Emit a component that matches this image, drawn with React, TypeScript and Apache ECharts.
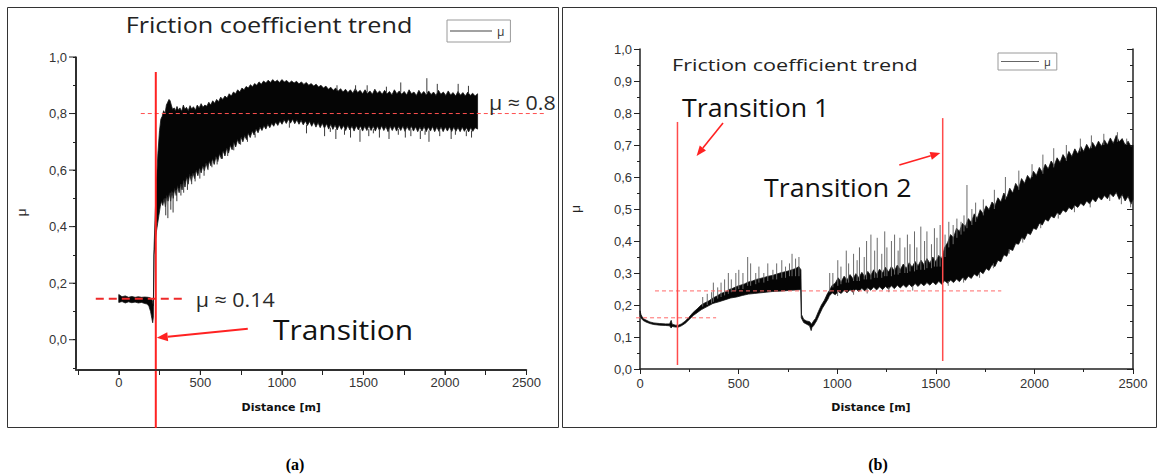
import React, { useEffect, useRef } from 'react';
import * as echarts from 'echarts';

type P = [number, number];
type S = [number, number, number]; // [distance, from μ, to μ]

// ---------- Panel (a): envelope of the friction-coefficient signal [distance m, μ] ----------
const aUpper: P[] = [
  [0, 0.16], [20, 0.152], [40, 0.155], [60, 0.15], [80, 0.153], [100, 0.15], [120, 0.152], [140, 0.15],
  [160, 0.151], [180, 0.15], [195, 0.148], [205, 0.14], [212, 0.12],
  [216, 0.32], [222, 0.42], [230, 0.55], [240, 0.66], [250, 0.74], [258, 0.78], [266, 0.79], [275, 0.81],
  [284, 0.8], [292, 0.83], [300, 0.84], [308, 0.85], [315, 0.845], [322, 0.83], [330, 0.815], [340, 0.82],
  [348, 0.81], [357, 0.825], [366, 0.812], [375, 0.82], [386, 0.808], [396, 0.83], [405, 0.815], [415, 0.822],
  [426, 0.81], [437, 0.828], [447, 0.816], [458, 0.824], [470, 0.812], [481, 0.83], [493, 0.82], [505, 0.835],
  [516, 0.822], [528, 0.83], [540, 0.826], [552, 0.84], [564, 0.83], [576, 0.845], [588, 0.836], [600, 0.85],
  [612, 0.842], [625, 0.858], [638, 0.85], [651, 0.862], [664, 0.855], [677, 0.87], [690, 0.862], [703, 0.876],
  [716, 0.87], [729, 0.884], [742, 0.876], [755, 0.89], [768, 0.884], [781, 0.896], [794, 0.89], [807, 0.902],
  [820, 0.895], [833, 0.906], [846, 0.9], [860, 0.912], [874, 0.904], [888, 0.915], [902, 0.908], [916, 0.918],
  [930, 0.91], [944, 0.92], [958, 0.912], [972, 0.918], [986, 0.91], [1000, 0.92], [1015, 0.912], [1030, 0.917],
  [1045, 0.908], [1060, 0.915], [1075, 0.908], [1090, 0.914], [1105, 0.905], [1120, 0.912], [1135, 0.903],
  [1150, 0.91], [1165, 0.9], [1180, 0.906], [1195, 0.897], [1210, 0.904], [1225, 0.894], [1240, 0.9],
  [1255, 0.89], [1270, 0.897], [1285, 0.886], [1300, 0.893], [1315, 0.882], [1330, 0.89], [1345, 0.879],
  [1360, 0.888], [1375, 0.876], [1390, 0.886], [1405, 0.874], [1420, 0.884], [1435, 0.872], [1450, 0.888],
  [1465, 0.874], [1480, 0.882], [1495, 0.87], [1510, 0.884], [1525, 0.871], [1540, 0.88], [1555, 0.868],
  [1570, 0.886], [1585, 0.872], [1600, 0.88], [1615, 0.868], [1630, 0.882], [1645, 0.87], [1660, 0.878],
  [1675, 0.866], [1690, 0.884], [1705, 0.87], [1720, 0.88], [1735, 0.868], [1750, 0.878], [1765, 0.866],
  [1780, 0.884], [1795, 0.87], [1810, 0.876], [1825, 0.864], [1840, 0.882], [1855, 0.868], [1870, 0.878],
  [1885, 0.866], [1900, 0.88], [1915, 0.867], [1930, 0.876], [1945, 0.864], [1960, 0.882], [1975, 0.868],
  [1990, 0.876], [2005, 0.864], [2020, 0.88], [2035, 0.866], [2050, 0.874], [2065, 0.862], [2080, 0.878],
  [2095, 0.865], [2110, 0.874], [2125, 0.862], [2140, 0.876], [2155, 0.864], [2170, 0.872], [2185, 0.862],
  [2200, 0.87],
];
const aLower: P[] = [
  [0, 0.132], [20, 0.135], [40, 0.13], [60, 0.134], [80, 0.131], [100, 0.133], [120, 0.13], [140, 0.132],
  [160, 0.128], [175, 0.126], [185, 0.118], [195, 0.1], [203, 0.075], [208, 0.06], [212, 0.08],
  [216, 0.3], [222, 0.34], [230, 0.38], [238, 0.41], [246, 0.44], [254, 0.47], [262, 0.49], [270, 0.475],
  [278, 0.5], [286, 0.47], [294, 0.51], [302, 0.49], [310, 0.52], [318, 0.49], [326, 0.525], [334, 0.5],
  [343, 0.535], [352, 0.51], [361, 0.545], [370, 0.52], [379, 0.55], [388, 0.53], [397, 0.565], [406, 0.54],
  [415, 0.575], [425, 0.55], [435, 0.585], [445, 0.56], [455, 0.59], [465, 0.57], [475, 0.6], [485, 0.58],
  [495, 0.608], [505, 0.59], [515, 0.615], [525, 0.598], [535, 0.625], [545, 0.605], [555, 0.632], [565, 0.615],
  [575, 0.64], [585, 0.62], [596, 0.648], [607, 0.63], [618, 0.658], [629, 0.64], [640, 0.668], [651, 0.65],
  [662, 0.678], [673, 0.66], [684, 0.688], [695, 0.672], [706, 0.698], [717, 0.682], [728, 0.708], [739, 0.692],
  [750, 0.716], [761, 0.7], [772, 0.722], [783, 0.708], [794, 0.73], [806, 0.715], [818, 0.738], [830, 0.724],
  [842, 0.745], [854, 0.732], [866, 0.752], [878, 0.74], [890, 0.757], [902, 0.745], [914, 0.762], [926, 0.75],
  [938, 0.766], [950, 0.755], [962, 0.77], [975, 0.758], [988, 0.774], [1001, 0.762], [1014, 0.778],
  [1027, 0.765], [1040, 0.78], [1053, 0.766], [1066, 0.78], [1079, 0.764], [1092, 0.778], [1105, 0.762],
  [1118, 0.776], [1131, 0.76], [1144, 0.774], [1157, 0.758], [1170, 0.772], [1183, 0.755], [1196, 0.77],
  [1209, 0.752], [1222, 0.768], [1235, 0.75], [1248, 0.766], [1261, 0.748], [1274, 0.764], [1287, 0.745],
  [1300, 0.762], [1313, 0.744], [1326, 0.76], [1339, 0.742], [1352, 0.76], [1365, 0.744], [1378, 0.758],
  [1391, 0.74], [1404, 0.758], [1417, 0.742], [1430, 0.756], [1443, 0.738], [1456, 0.757], [1469, 0.742],
  [1482, 0.756], [1495, 0.738], [1508, 0.755], [1521, 0.74], [1534, 0.757], [1547, 0.74], [1560, 0.756],
  [1573, 0.738], [1586, 0.755], [1599, 0.74], [1612, 0.757], [1625, 0.74], [1638, 0.754], [1651, 0.736],
  [1664, 0.755], [1677, 0.74], [1690, 0.756], [1703, 0.738], [1716, 0.754], [1729, 0.74], [1742, 0.756],
  [1755, 0.737], [1768, 0.754], [1781, 0.74], [1794, 0.755], [1807, 0.738], [1820, 0.753], [1833, 0.736],
  [1846, 0.752], [1859, 0.738], [1872, 0.754], [1885, 0.736], [1898, 0.752], [1911, 0.738], [1924, 0.754],
  [1937, 0.736], [1950, 0.752], [1963, 0.737], [1976, 0.753], [1989, 0.736], [2002, 0.752], [2015, 0.738],
  [2028, 0.753], [2041, 0.736], [2054, 0.752], [2067, 0.737], [2080, 0.751], [2093, 0.736], [2106, 0.752],
  [2119, 0.737], [2132, 0.75], [2145, 0.735], [2158, 0.75], [2171, 0.737], [2184, 0.75], [2200, 0.745],
];
const aSpikes: S[] = [
  [288, 0.5, 0.44], [301, 0.5, 0.43], [319, 0.52, 0.46], [333, 0.52, 0.45], [356, 0.53, 0.49], [381, 0.55, 0.51],
  [398, 0.56, 0.52], [421, 0.57, 0.53], [447, 0.58, 0.55], [468, 0.59, 0.56], [497, 0.6, 0.57], [523, 0.61, 0.58],
  [547, 0.62, 0.6], [571, 0.63, 0.61], [603, 0.64, 0.62], [636, 0.66, 0.64], [668, 0.67, 0.65], [705, 0.69, 0.67],
  [747, 0.71, 0.69], [789, 0.72, 0.7], [836, 0.73, 0.715], [1046, 0.77, 0.75], [1151, 0.76, 0.73],
  [1262, 0.75, 0.72], [1297, 0.75, 0.735], [1331, 0.745, 0.71], [1384, 0.745, 0.725], [1421, 0.745, 0.715],
  [1479, 0.745, 0.7], [1533, 0.745, 0.72], [1561, 0.745, 0.73], [1598, 0.745, 0.715], [1657, 0.745, 0.71],
  [1714, 0.745, 0.725], [1757, 0.74, 0.715], [1791, 0.745, 0.72], [1849, 0.74, 0.71], [1878, 0.74, 0.725],
  [1902, 0.74, 0.7], [1968, 0.74, 0.72], [2038, 0.74, 0.71], [2064, 0.74, 0.725], [2131, 0.74, 0.72],
  [2163, 0.74, 0.715],
  [1338, 0.88, 0.9], [1452, 0.88, 0.9], [1523, 0.875, 0.9], [1641, 0.875, 0.895], [1729, 0.875, 0.91],
  [1889, 0.872, 0.925], [1953, 0.872, 0.905], [2081, 0.87, 0.905], [2144, 0.87, 0.898],
];

// ---------- Panel (b) ----------
const bUpper: P[] = [
  [0, 0.182], [5, 0.17], [15, 0.158], [30, 0.153], [50, 0.147], [70, 0.144], [100, 0.142], [130, 0.141],
  [150, 0.141], [158, 0.152], [163, 0.14], [180, 0.137], [195, 0.137], [210, 0.141], [230, 0.15], [250, 0.163],
  [270, 0.177], [290, 0.188], [310, 0.2], [330, 0.207], [350, 0.213], [370, 0.222], [390, 0.228], [410, 0.236],
  [430, 0.24], [450, 0.248], [470, 0.252], [490, 0.258], [510, 0.262], [530, 0.266], [550, 0.272], [570, 0.275],
  [590, 0.28], [610, 0.283], [630, 0.286], [650, 0.29], [670, 0.292], [690, 0.296], [710, 0.3], [730, 0.303],
  [750, 0.306], [770, 0.31], [790, 0.314], [805, 0.32], [816, 0.31],
  [819, 0.17], [830, 0.155], [845, 0.15], [860, 0.148], [870, 0.14], [880, 0.15], [890, 0.158], [905, 0.18],
  [920, 0.2], [935, 0.215], [950, 0.235],
  [960, 0.245], [975, 0.262], [990, 0.268], [1005, 0.285], [1020, 0.272], [1035, 0.29], [1050, 0.278],
  [1065, 0.295], [1080, 0.282], [1095, 0.298], [1110, 0.285], [1125, 0.302], [1140, 0.288], [1155, 0.305],
  [1170, 0.292], [1185, 0.31], [1200, 0.296], [1215, 0.312], [1230, 0.3], [1245, 0.318], [1260, 0.303],
  [1275, 0.32], [1290, 0.306], [1305, 0.325], [1320, 0.31], [1335, 0.328], [1350, 0.314], [1365, 0.332],
  [1380, 0.318], [1395, 0.336], [1410, 0.322], [1425, 0.34], [1440, 0.326], [1455, 0.345], [1470, 0.33],
  [1485, 0.35], [1500, 0.335], [1515, 0.355], [1530, 0.345], [1545, 0.38], [1560, 0.395], [1575, 0.42],
  [1590, 0.41], [1605, 0.44], [1620, 0.43], [1635, 0.455], [1650, 0.445], [1665, 0.47], [1680, 0.458],
  [1695, 0.485], [1710, 0.47], [1725, 0.498], [1740, 0.485], [1755, 0.51], [1770, 0.498], [1785, 0.522],
  [1800, 0.51], [1815, 0.535], [1830, 0.522], [1845, 0.55], [1860, 0.535], [1875, 0.565], [1890, 0.55],
  [1905, 0.58], [1920, 0.565], [1935, 0.595], [1950, 0.58], [1965, 0.605], [1980, 0.592], [1995, 0.618],
  [2010, 0.605], [2025, 0.63], [2040, 0.615], [2055, 0.64], [2070, 0.625], [2085, 0.65], [2100, 0.635],
  [2115, 0.66], [2130, 0.645], [2145, 0.67], [2160, 0.655], [2175, 0.68], [2190, 0.664], [2205, 0.688],
  [2220, 0.672], [2235, 0.696], [2250, 0.68], [2265, 0.702], [2280, 0.686], [2295, 0.708], [2310, 0.692],
  [2325, 0.712], [2340, 0.696], [2355, 0.716], [2370, 0.7], [2385, 0.722], [2400, 0.705], [2415, 0.73],
  [2430, 0.71], [2445, 0.72], [2460, 0.7], [2475, 0.712], [2490, 0.695], [2500, 0.7],
];
const bLower: P[] = [
  [0, 0.172], [5, 0.16], [15, 0.152], [30, 0.147], [50, 0.142], [70, 0.139], [100, 0.137], [130, 0.136],
  [150, 0.135], [158, 0.128], [163, 0.133], [180, 0.131], [195, 0.131], [210, 0.135], [230, 0.143],
  [250, 0.155], [270, 0.167], [290, 0.176], [310, 0.185], [340, 0.195], [370, 0.205], [400, 0.21],
  [430, 0.216], [460, 0.222], [490, 0.225], [520, 0.23], [550, 0.234], [580, 0.236], [610, 0.238],
  [640, 0.24], [670, 0.242], [700, 0.243], [730, 0.244], [760, 0.246], [790, 0.247], [815, 0.248],
  [818, 0.16], [830, 0.145], [845, 0.14], [860, 0.135], [868, 0.12], [872, 0.13], [880, 0.135], [895, 0.15],
  [910, 0.17], [925, 0.19], [940, 0.205], [955, 0.22],
  [960, 0.228], [975, 0.238], [990, 0.232], [1005, 0.242], [1020, 0.236], [1035, 0.246], [1050, 0.238],
  [1065, 0.248], [1080, 0.24], [1095, 0.25], [1110, 0.242], [1125, 0.252], [1140, 0.244], [1155, 0.254],
  [1170, 0.246], [1185, 0.256], [1200, 0.247], [1215, 0.257], [1230, 0.248], [1245, 0.258], [1260, 0.25],
  [1275, 0.26], [1290, 0.251], [1305, 0.262], [1320, 0.253], [1335, 0.263], [1350, 0.255], [1365, 0.265],
  [1380, 0.256], [1395, 0.267], [1410, 0.258], [1425, 0.268], [1440, 0.26], [1455, 0.27], [1470, 0.262],
  [1485, 0.272], [1500, 0.263], [1515, 0.274], [1530, 0.265], [1545, 0.276], [1560, 0.268], [1575, 0.278],
  [1590, 0.27], [1605, 0.281], [1620, 0.273], [1635, 0.285], [1650, 0.277], [1665, 0.29], [1680, 0.283],
  [1695, 0.297], [1710, 0.29], [1725, 0.305], [1740, 0.298], [1755, 0.314], [1770, 0.308], [1785, 0.326],
  [1800, 0.32], [1815, 0.34], [1830, 0.335], [1845, 0.357], [1860, 0.352], [1875, 0.375], [1890, 0.37],
  [1905, 0.392], [1920, 0.39], [1935, 0.41], [1950, 0.405], [1965, 0.425], [1980, 0.42], [1995, 0.44],
  [2010, 0.436], [2025, 0.455], [2040, 0.45], [2055, 0.468], [2070, 0.462], [2085, 0.478], [2100, 0.472],
  [2115, 0.488], [2130, 0.482], [2145, 0.497], [2160, 0.49], [2175, 0.505], [2190, 0.498], [2205, 0.512],
  [2220, 0.505], [2235, 0.518], [2250, 0.51], [2265, 0.525], [2280, 0.516], [2295, 0.532], [2310, 0.522],
  [2325, 0.538], [2340, 0.528], [2355, 0.542], [2370, 0.532], [2385, 0.548], [2400, 0.538], [2415, 0.552],
  [2430, 0.53], [2445, 0.545], [2460, 0.525], [2475, 0.54], [2490, 0.515], [2500, 0.53],
];
const bSpikes: S[] = [
  [318, 0.195, 0.225], [341, 0.2, 0.235], [363, 0.205, 0.24], [372, 0.21, 0.27], [394, 0.22, 0.255],
  [411, 0.225, 0.27], [429, 0.23, 0.28], [448, 0.235, 0.3], [463, 0.24, 0.28], [486, 0.245, 0.3],
  [501, 0.25, 0.31], [522, 0.25, 0.3], [546, 0.26, 0.35], [561, 0.26, 0.33], [587, 0.265, 0.3],
  [603, 0.27, 0.32], [628, 0.27, 0.3], [648, 0.275, 0.33], [674, 0.28, 0.31], [693, 0.28, 0.33],
  [719, 0.285, 0.34], [738, 0.285, 0.32], [758, 0.29, 0.33], [771, 0.29, 0.36], [789, 0.29, 0.345],
  [806, 0.29, 0.35],
  [962, 0.24, 0.3], [978, 0.255, 0.3], [1003, 0.26, 0.34], [1019, 0.265, 0.32], [1046, 0.27, 0.37],
  [1058, 0.27, 0.33], [1083, 0.275, 0.36], [1101, 0.275, 0.34], [1113, 0.275, 0.38], [1137, 0.28, 0.35],
  [1149, 0.28, 0.4], [1171, 0.28, 0.42], [1190, 0.285, 0.37], [1203, 0.285, 0.41], [1226, 0.285, 0.36],
  [1241, 0.29, 0.43], [1252, 0.29, 0.38], [1275, 0.29, 0.4], [1291, 0.295, 0.42], [1309, 0.295, 0.37],
  [1318, 0.3, 0.41], [1343, 0.3, 0.38], [1356, 0.3, 0.42], [1369, 0.305, 0.39], [1392, 0.305, 0.43],
  [1404, 0.31, 0.38], [1424, 0.31, 0.445], [1443, 0.31, 0.4], [1455, 0.315, 0.43], [1478, 0.315, 0.39],
  [1493, 0.32, 0.44], [1506, 0.32, 0.41], [1522, 0.32, 0.45], [1547, 0.35, 0.42], [1566, 0.38, 0.46],
  [1588, 0.39, 0.45], [1607, 0.41, 0.47], [1628, 0.42, 0.46], [1643, 0.43, 0.48], [1658, 0.44, 0.575],
  [1683, 0.45, 0.5], [1702, 0.46, 0.52], [1741, 0.48, 0.53], [1797, 0.5, 0.56], [1853, 0.53, 0.6],
  [1921, 0.56, 0.62], [1988, 0.6, 0.64], [2043, 0.61, 0.67], [2098, 0.63, 0.69], [2162, 0.65, 0.7],
  [2233, 0.68, 0.72], [2289, 0.69, 0.73], [2352, 0.7, 0.735], [2421, 0.71, 0.74], [2468, 0.7, 0.72],
  [1002, 0.245, 0.228], [1083, 0.248, 0.232], [1152, 0.252, 0.236], [1262, 0.256, 0.24], [1383, 0.26, 0.245],
  [1563, 0.275, 0.26], [1641, 0.285, 0.27], [1722, 0.3, 0.285], [1792, 0.33, 0.315], [1872, 0.375, 0.36],
  [1941, 0.41, 0.395], [2032, 0.455, 0.44], [2121, 0.485, 0.47], [2203, 0.51, 0.49], [2283, 0.52, 0.505],
  [2382, 0.545, 0.525], [2441, 0.54, 0.515], [2488, 0.52, 0.505],
];

// ---------- annotations (data units) ----------
const aTransition = { d: 227, top: 0.947, bottom: -0.312 };
const aLevels = [
  { mu: 0.8, from: 135, to: 2607, label: 'μ ≈ 0.8', labelD: 2270, labelMu: 0.84 },
  { mu: 0.145, from: -141, to: 411, label: 'μ ≈ 0.14', labelD: 472, labelMu: 0.143 },
];
const aArrow = { text: 'Transition', textD: 945, textMu: 0.037, from: [791, 0.039] as P, to: [233, 0.007] as P };

const bTransitions = [
  { d: 190, top: 0.772, bottom: 0.0125, text: 'Transition 1', textD: 213, textMu: 0.819, from: [421, 0.769] as P, to: [287, 0.666] as P },
  { d: 1535, top: 0.784, bottom: 0.025, text: 'Transition 2', textD: 629, textMu: 0.569, from: [1315, 0.6375] as P, to: [1523, 0.675] as P },
];
const bLevels = [
  { mu: 0.244, from: 76, to: 1832 },
  { mu: 0.16, from: -20, to: 386 },
];

const aXRange: P = [-250, 2500];
const aYRange: P = [-0.1, 1.0];
const aYMajor = [0, 0.2, 0.4, 0.6, 0.8, 1.0];
const aXMajor = [0, 500, 1000, 1500, 2000, 2500];
const xLabelStep = 500;
const seriesName = 'μ';
const titleText = 'Friction coefficient trend';

const GRID_A = { left: 78, top: 57, width: 448.5, height: 311 };
const GRID_B = { left: 640, top: 49, width: 493, height: 320 };
const A_OFF = 2; // panel (a) axes sit 2 px outside the plotting box

const RED = '#ff2222';
const FONT = '"Open Sans", sans-serif';
const STRETCH = 1.07;
const AXIS_COLOR = '#222';

function fmtComma(v: number) {
  return (Math.round(v * 10) / 10).toFixed(1).replace('.', ',');
}

function arrow(p1: number[], p2: number[], color: string, lw: number, hl: number, hw: number) {
  const dx = p2[0] - p1[0], dy = p2[1] - p1[1];
  const L = Math.hypot(dx, dy);
  const ux = dx / L, uy = dy / L;
  const bx = p2[0] - ux * hl, by = p2[1] - uy * hl;
  const nx = -uy, ny = ux;
  return [
    { type: 'line', shape: { x1: p1[0], y1: p1[1], x2: bx, y2: by }, style: { stroke: color, lineWidth: lw } },
    {
      type: 'polygon',
      shape: { points: [[p2[0], p2[1]], [bx + (nx * hw) / 2, by + (ny * hw) / 2], [bx - (nx * hw) / 2, by - (ny * hw) / 2]] },
      style: { fill: color },
    },
  ];
}

function band(xi: number, yi: number, upper: P[], lower: P[], spikes: S[], spikeColor: string) {
  return {
    type: 'custom',
    name: seriesName,
    xAxisIndex: xi,
    yAxisIndex: yi,
    data: [[0, 0]],
    clip: false,
    z: 2,
    itemStyle: { color: '#000' },
    renderItem: (_p: any, api: any) => {
      const pts = upper.map((p) => api.coord(p)).concat(lower.slice().reverse().map((p) => api.coord(p)));
      const children: any[] = spikes.map((s) => {
        const a = api.coord([s[0], s[1]]), b = api.coord([s[0], s[2]]);
        return { type: 'line', shape: { x1: a[0], y1: a[1], x2: b[0], y2: b[1] }, style: { stroke: spikeColor, lineWidth: 1 } };
      });
      children.unshift({
        type: 'polygon',
        shape: { points: pts },
        style: { fill: '#050505', stroke: '#151515', lineWidth: 0.8 },
      });
      return { type: 'group', children };
    },
  };
}

function txt(x: number, y: number, text: string, size: number, fill: string) {
  return {
    type: 'text', x, y, scaleX: STRETCH,
    style: { text, fontSize: size, fontFamily: FONT, fill, align: 'left', verticalAlign: 'middle' },
  };
}

function seg(p1: number[], p2: number[], stroke: string, lineWidth: number) {
  return { type: 'line', shape: { x1: p1[0], y1: p1[1], x2: p2[0], y2: p2[1] }, style: { stroke, lineWidth } };
}

// Frame of panel (a): axis lines and labelled ticks, drawn just outside the plotting box
function frameA() {
  const x0 = GRID_A.left - A_OFF, y0 = GRID_A.top + GRID_A.height + A_OFF, y1 = GRID_A.top;
  const w = 1.5;
  const gx0 = GRID_A.left, gy0 = GRID_A.top + GRID_A.height;
  const sx = (d: number) => gx0 + ((d - aXRange[0]) / (aXRange[1] - aXRange[0])) * GRID_A.width;
  const sy = (m: number) => gy0 - ((m - aYRange[0]) / (aYRange[1] - aYRange[0])) * GRID_A.height;
  const els: any[] = [
    { type: 'rect', z: 100, shape: { x: x0 - w / 2, y: y1, width: w, height: y0 - y1 + w / 2 }, style: { fill: AXIS_COLOR } },
    { type: 'rect', z: 100, shape: { x: x0 - w / 2, y: y0 - w / 2, width: GRID_A.width + A_OFF + w / 2, height: w }, style: { fill: AXIS_COLOR } },
  ];
  aYMajor.forEach((m) => {
    els.push({ type: 'rect', z: 100, shape: { x: x0 - 7, y: sy(m) - 0.5, width: 7, height: 1 }, style: { fill: AXIS_COLOR } });
  });
  aXMajor.forEach((d) => {
    els.push({ type: 'rect', z: 100, shape: { x: sx(d) - 0.5, y: y0, width: 1, height: 5 }, style: { fill: AXIS_COLOR } });
  });
  return els;
}

export default function App() {
  const ref = useRef<HTMLDivElement>(null);
  useEffect(() => {
    document.body.style.margin = '0';
    const chart = echarts.init(ref.current!, undefined, { renderer: 'svg' });

    const annotA = {
      type: 'custom', xAxisIndex: 0, yAxisIndex: 0, data: [[0, 0]], clip: false, silent: true, z: 50,
      renderItem: (_p: any, api: any) => {
        const c = (d: number, m: number) => api.coord([d, m]);
        const ch: any[] = [];
        aLevels.forEach((l, i) => {
          const p1 = c(l.from, l.mu), p2 = c(l.to, l.mu);
          ch.push({
            type: 'line',
            shape: { x1: p1[0], y1: p1[1], x2: p2[0], y2: p2[1] },
            style: i === 0
              ? { stroke: '#ff5050', lineWidth: 1, lineDash: [4, 3] }
              : { stroke: '#ee2a2a', lineWidth: 1.8, lineDash: [8, 5] },
          });
          const tp = c(l.labelD, l.labelMu);
          ch.push(txt(tp[0], tp[1], l.label, 20, '#2a2a2a'));
        });
        ch.push(seg(c(aTransition.d, aTransition.top), c(aTransition.d, aTransition.bottom), RED, 2));
        const tp = c(aArrow.textD, aArrow.textMu);
        ch.push(txt(tp[0], tp[1], aArrow.text, 28, '#111'));
        ch.push(...arrow(c(aArrow.from[0], aArrow.from[1]), c(aArrow.to[0], aArrow.to[1]), RED, 2, 11, 9));
        return { type: 'group', children: ch };
      },
    };

    const annotB = {
      type: 'custom', xAxisIndex: 1, yAxisIndex: 1, data: [[0, 0]], clip: false, silent: true, z: 50,
      renderItem: (_p: any, api: any) => {
        const c = (d: number, m: number) => api.coord([d, m]);
        const ch: any[] = [];
        bLevels.forEach((l) => {
          const p1 = c(l.from, l.mu), p2 = c(l.to, l.mu);
          ch.push({
            type: 'line',
            shape: { x1: p1[0], y1: p1[1], x2: p2[0], y2: p2[1] },
            style: { stroke: '#ff6a6a', lineWidth: 1, lineDash: [4, 3] },
          });
        });
        bTransitions.forEach((t) => {
          ch.push(seg(c(t.d, t.top), c(t.d, t.bottom), '#ff4b4b', 1.5));
          const tp = c(t.textD, t.textMu);
          ch.push(txt(tp[0], tp[1], t.text, 25, '#111'));
          ch.push(...arrow(c(t.from[0], t.from[1]), c(t.to[0], t.to[1]), RED, 1.6, 10, 8));
        });
        return { type: 'group', children: ch };
      },
    };

    const axisLabelStyle = { color: '#333', fontFamily: '"Liberation Sans", Arial, sans-serif' };
    const xFmt = (v: number) => (Math.round(v) % xLabelStep === 0 && v >= 0 ? String(Math.round(v)) : '');
    const nameStyle = { fontSize: 11, fontWeight: 'bold', color: '#111', fontFamily: '"DejaVu Sans", sans-serif' };

    const option: any = {
      animation: false,
      legend: [
        { data: [seriesName], left: 447, top: 20, icon: 'rect', itemWidth: 42, itemHeight: 1, itemGap: 0,
          padding: [5, 6, 5, 3], borderColor: '#9a9a9a', borderWidth: 1, selectedMode: false,
          itemStyle: { color: '#444' }, textStyle: { fontSize: 12, color: '#333', fontFamily: FONT } },
        { data: [seriesName], left: 998, top: 53, icon: 'rect', itemWidth: 38, itemHeight: 1, itemGap: 0,
          padding: [3, 6, 3, 3], borderColor: '#9a9a9a', borderWidth: 1, selectedMode: false,
          itemStyle: { color: '#666' }, textStyle: { fontSize: 11, color: '#333', fontFamily: FONT } },
      ],
      grid: [GRID_A, GRID_B],
      xAxis: [
        {
          type: 'value', gridIndex: 0, min: aXRange[0], max: aXRange[1], interval: 250, offset: A_OFF,
          axisLine: { show: true, onZero: false, lineStyle: { color: AXIS_COLOR, width: 1.5 } },
          axisTick: { show: true, length: 5, lineStyle: { color: AXIS_COLOR } },
          splitLine: { show: false },
          axisLabel: { ...axisLabelStyle, fontSize: 13, margin: 6, formatter: xFmt },
          name: 'Distance [m]', nameLocation: 'middle', nameGap: 32,
          nameTextStyle: { ...nameStyle, padding: [0, 42, 0, 0] },
        },
        {
          type: 'value', gridIndex: 1, min: 0, max: 2500, interval: 500,
          axisLine: { show: true, onZero: false, lineStyle: { color: AXIS_COLOR, width: 1.5 } },
          axisTick: { show: true, length: 5, lineStyle: { color: AXIS_COLOR } },
          minorTick: { show: true, splitNumber: 2, length: 3, lineStyle: { color: AXIS_COLOR } },
          splitLine: { show: false },
          axisLabel: { ...axisLabelStyle, fontSize: 13, margin: 8, formatter: xFmt },
          name: 'Distance [m]', nameLocation: 'middle', nameGap: 33,
          nameTextStyle: { ...nameStyle, padding: [0, 31, 0, 0] },
        },
      ],
      yAxis: [
        {
          type: 'value', gridIndex: 0, min: aYRange[0], max: aYRange[1], interval: 0.1, offset: A_OFF,
          axisLine: { show: true, onZero: false, lineStyle: { color: AXIS_COLOR, width: 1.5 } },
          axisTick: { show: true, length: 3, lineStyle: { color: AXIS_COLOR } },
          splitLine: { show: false },
          axisLabel: {
            ...axisLabelStyle, fontSize: 13, margin: 9,
            formatter: (v: number) => {
              const k = Math.round(v * 10);
              return k >= 0 && k % 2 === 0 ? fmtComma(v) : '';
            },
          },
          name: 'μ', nameLocation: 'middle', nameGap: 49,
          nameTextStyle: { fontSize: 13, color: '#222', fontFamily: FONT },
        },
        {
          type: 'value', gridIndex: 1, min: 0, max: 1.0, interval: 0.1,
          axisLine: { show: true, onZero: false, lineStyle: { color: AXIS_COLOR, width: 1.5 } },
          axisTick: { show: true, length: 6, lineStyle: { color: AXIS_COLOR } },
          minorTick: { show: true, splitNumber: 2, length: 3, lineStyle: { color: AXIS_COLOR } },
          splitLine: { show: false },
          axisLabel: { ...axisLabelStyle, fontSize: 13, margin: 8, formatter: (v: number) => fmtComma(v) },
          name: 'μ', nameLocation: 'middle', nameGap: 59,
          nameTextStyle: { fontSize: 13, color: '#222', fontFamily: FONT },
        },
        {
          type: 'value', gridIndex: 1, min: 0, max: 1.0, interval: 0.1, position: 'right',
          axisLine: { show: true, onZero: false, lineStyle: { color: AXIS_COLOR, width: 1.5 } },
          axisTick: { show: true, inside: true, length: 6, lineStyle: { color: AXIS_COLOR } },
          minorTick: { show: true, splitNumber: 2, length: 3, lineStyle: { color: AXIS_COLOR } },
          splitLine: { show: false },
          axisLabel: { show: false },
        },
      ],
      graphic: [
        { type: 'rect', shape: { x: 7.5, y: 7.5, width: 551, height: 420 }, style: { fill: 'transparent', stroke: '#333', lineWidth: 1 }, silent: true, z: -10 },
        { type: 'rect', shape: { x: 562.5, y: 7.5, width: 594, height: 420 }, style: { fill: 'transparent', stroke: '#333', lineWidth: 1 }, silent: true, z: -10 },
        ...frameA(),
        { type: 'text', x: 269, y: 25, scaleX: 1.2, silent: true,
          style: { text: titleText, fontSize: 21, fontFamily: FONT, fill: '#222', align: 'center', verticalAlign: 'middle' } },
        { type: 'text', x: 672, y: 64, scaleX: 1.27, silent: true,
          style: { text: titleText, fontSize: 17, fontFamily: FONT, fill: '#222', align: 'left', verticalAlign: 'middle' } },
        { type: 'text', x: 295, y: 464, silent: true,
          style: { text: '(a)', fontSize: 16, fontWeight: 'bold', fontFamily: '"Liberation Serif", serif', fill: '#000', align: 'center', verticalAlign: 'middle' } },
        { type: 'text', x: 878, y: 464, silent: true,
          style: { text: '(b)', fontSize: 16, fontWeight: 'bold', fontFamily: '"Liberation Serif", serif', fill: '#000', align: 'center', verticalAlign: 'middle' } },
      ],
      series: [
        band(0, 0, aUpper, aLower, aSpikes, '#3a3a3a'),
        band(1, 1, bUpper, bLower, bSpikes, '#6a6a6a'),
        annotA,
        annotB,
      ],
    };
    chart.setOption(option);
    return () => chart.dispose();
  }, []);
  return <div ref={ref} style={{ width: 1164, height: 476 }} />;
}
